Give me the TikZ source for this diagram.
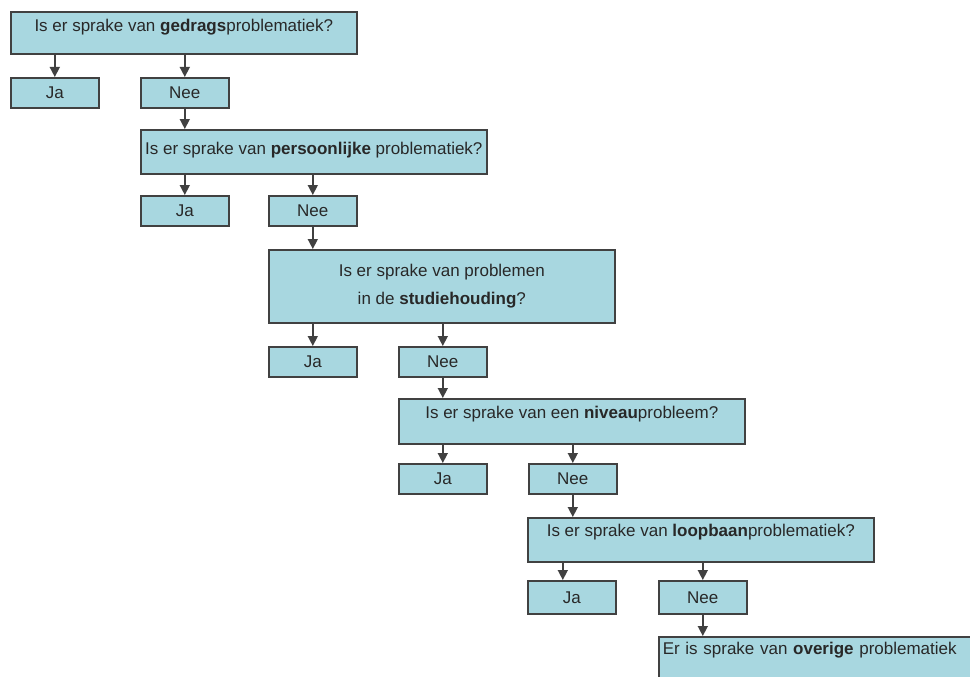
\documentclass[tikz,border=0pt]{standalone}
\usepackage{fontspec}
\setmainfont{Liberation Sans}
\usetikzlibrary{arrows.meta}
\definecolor{vakblauw}{RGB}{168,215,224}
\definecolor{rand}{RGB}{65,65,65}
\definecolor{tekst}{RGB}{40,40,40}

\begin{document}
\begin{tikzpicture}[x=1pt,y=-1pt,
  vak/.style={draw=rand,fill=vakblauw,line width=1.6pt,text=tekst,font=\fontsize{17}{20}\selectfont,anchor=north west,inner xsep=0pt},
  vraag/.style={vak,minimum width=346pt,inner ysep=4pt,text height=16pt,text depth=18pt},
  antw/.style={vak,minimum width=88pt,minimum height=30pt,inner ysep=0pt},
  pijl/.style={draw=rand,line width=1.5pt,-{Triangle[width=10pt,length=10pt]}}]
\useasboundingbox (0,0) rectangle (970,677);
\clip (0,0) rectangle (970,677);
\fill[white] (0,0) rectangle (970,677);

\node[vraag] (q1) at (10,11) {Is er sprake van \textbf{gedrags}problematiek?};
\node[antw] (ja1) at (10,77) {Ja};
\node[antw] (nee1) at (140,77) {Nee};

\node[vraag,text height=21pt,text depth=15pt] (q2) at (140,129) {Is er sprake van \textbf{persoonlijke} problematiek?};
\node[antw] (ja2) at (140,195) {Ja};
\node[antw] (nee2) at (268,195) {Nee};

\node[vak,minimum width=346pt,minimum height=73pt,align=center,font=\fontsize{17}{28}\selectfont] (q3) at (268,249) {Is er sprake van problemen\\in de \textbf{studiehouding}?};
\node[antw] (ja3) at (268,346) {Ja};
\node[antw] (nee3) at (398,346) {Nee};

\node[vraag,text depth=21pt] (q4) at (398,398) {Is er sprake van een \textbf{niveau}probleem?};
\node[antw] (ja4) at (398,463) {Ja};
\node[antw] (nee4) at (528,463) {Nee};

\node[vraag,text height=15pt,text depth=21pt] (q5) at (527,517) {Is er sprake van \textbf{loopbaan}problematiek?};
\node[antw,minimum height=33pt] (ja5) at (527,580) {Ja};
\node[antw,minimum height=33pt] (nee5) at (658,580) {Nee};

\node[vraag,minimum width=0pt,inner xsep=4pt,text width=314pt,align=left,text height=14pt,text depth=40pt] (q6) at (658,636) {Er is sprake van \textbf{overige} problematiek};

\draw[pijl] (ja1.north |- q1.south) -- (ja1.north);
\draw[pijl] (nee1.north |- q1.south) -- (nee1.north);
\draw[pijl] (nee1.south) -- (nee1.south |- q2.north);
\draw[pijl] (ja2.north |- q2.south) -- (ja2.north);
\draw[pijl] (nee2.north |- q2.south) -- (nee2.north);
\draw[pijl] (nee2.south) -- (nee2.south |- q3.north);
\draw[pijl] (ja3.north |- q3.south) -- (ja3.north);
\draw[pijl] (nee3.north |- q3.south) -- (nee3.north);
\draw[pijl] (nee3.south) -- (nee3.south |- q4.north);
\draw[pijl] (ja4.north |- q4.south) -- (ja4.north);
\draw[pijl] (nee4.north |- q4.south) -- (nee4.north);
\draw[pijl] (nee4.south) -- (nee4.south |- q5.north);
\draw[pijl] ([xshift=-9pt]ja5.north |- q5.south) -- ([xshift=-9pt]ja5.north);
\draw[pijl] (nee5.north |- q5.south) -- (nee5.north);
\draw[pijl] (nee5.south) -- (nee5.south |- q6.north);
\end{tikzpicture}
\end{document}
